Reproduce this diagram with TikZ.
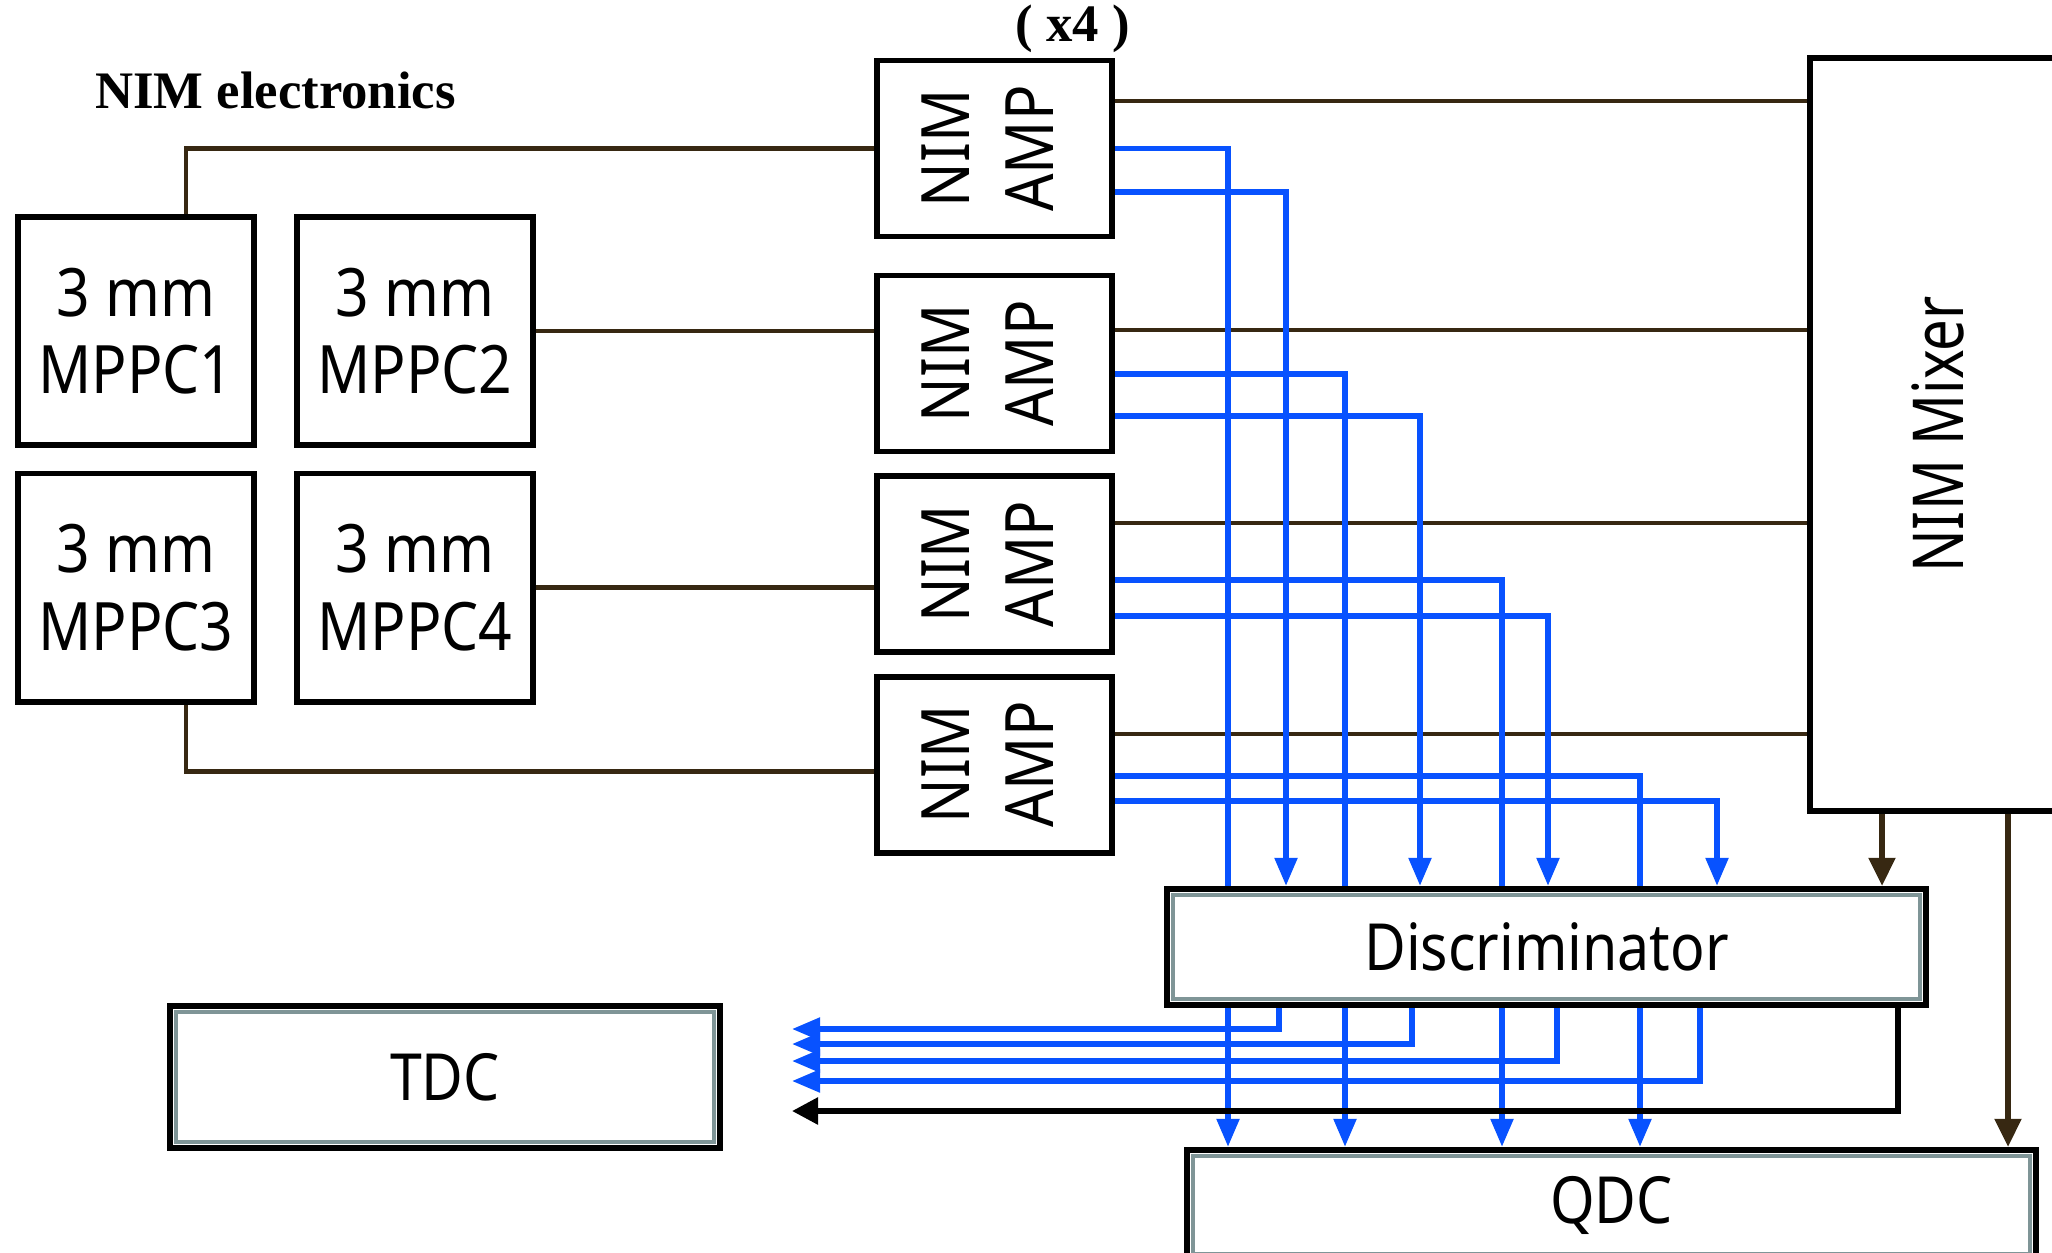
\documentclass[tikz,border=0pt]{standalone}
\usepackage{fontspec}
\setmainfont{Noto Sans}[FakeStretch=0.88]
\newfontfamily\narrowfont{Noto Sans}[FakeStretch=0.8]
\newfontfamily\headfont{Liberation Serif}
\usepackage{xcolor}
\usepackage{tikz}
\usetikzlibrary{backgrounds,calc,positioning,arrows.meta}

\definecolor{wirebrown}{RGB}{55,40,18}
\definecolor{sigblue}{RGB}{8,82,255}
\definecolor{rimgray}{RGB}{127,149,151}

\newcommand{\amplabel}{\rotatebox{90}{\begin{tabular}{@{}c@{}}NIM\\AMP\end{tabular}}}

\tikzset{
  box/.style={draw=black, line width=1.7pt, fill=white, inner sep=0pt},
  mppc/.style={box, minimum width=2.36cm, minimum height=2.28cm, align=center,
               font=\fontsize{19}{22}\selectfont},
  amp/.style={box, minimum width=2.35cm, minimum height=1.76cm,
              font=\fontsize{19}{24}\selectfont},
  module/.style={box, line width=1.8pt, font=\fontsize{18.5}{22}\selectfont},
  rim/.style={draw=rimgray, line width=1.2pt},
  heading/.style={font=\headfont\bfseries\fontsize{15}{18}\selectfont, inner sep=0pt},
  wire/.style={draw=wirebrown, line width=1.3pt},
  wirearrow/.style={wire, line width=1.5pt, -{Triangle[length=2.8mm,width=2.6mm]}},
  sig/.style={draw=sigblue, line width=1.5pt, -{Triangle[length=2.8mm,width=2.2mm]}},
  gate/.style={draw=black, line width=1.6pt, -{Triangle[length=2.6mm,width=2.6mm]}}
}

\begin{document}
\begin{tikzpicture}
    \useasboundingbox (0,0) rectangle (20.52,-12.52);

    \node[heading] (title) at (2.755,-0.90) {NIM electronics};
    \node[heading] (count) at (10.725,-0.29) {( x4 )};

    % sensors
    \node[mppc] (mppc1) at (1.36,-3.31) {3 mm\\MPPC1};
    \node[mppc] (mppc2) at (4.15,-3.31) {3 mm\\MPPC2};
    \node[mppc] (mppc3) at (1.36,-5.875) {3 mm\\MPPC3};
    \node[mppc] (mppc4) at (4.15,-5.875) {3 mm\\MPPC4};

    % amplifiers
    \node[amp] (amp1) at (9.945,-1.485) {\amplabel};
    \node[amp] (amp2) at (9.945,-3.635) {\amplabel};
    \node[amp] (amp3) at (9.945,-5.64) {\amplabel};
    \node[amp] (amp4) at (9.945,-7.645) {\amplabel};

    \node[box, minimum width=2.56cm, minimum height=7.53cm] (mixer) at (19.38,-4.345)
        {\rotatebox{90}{\narrowfont\fontsize{20}{24}\selectfont NIM Mixer}};

    \node[module, minimum width=7.59cm, minimum height=1.16cm] (disc) at (15.465,-9.47) {Discriminator};
    \node[module, minimum width=5.5cm, minimum height=1.42cm] (tdc) at (4.45,-10.77) {TDC};
    \node[module, minimum width=8.49cm, minimum height=1.10cm] (qdc) at (16.115,-12.05) {QDC};

    \foreach \m in {disc,tdc,qdc}
        \draw[rim] ([shift={(0.095,-0.095)}]\m.north west) rectangle ([shift={(-0.095,0.095)}]\m.south east);

    % drop columns
    \foreach \n/\x in {a1/12.28, b1/12.86, a2/13.45, b2/14.20, a3/15.02, b3/15.48, a4/16.40, b4/17.17,
                       m1/18.82, m2/20.08}
        \coordinate (\n) at (\x,0);

    \begin{pgfonlayer}{background}
        % sensor cables
        \draw[wire] ([xshift=5mm]mppc1.north) |- (amp1.west);
        \draw[wire] (mppc2.east) -- (mppc2.east -| amp2.west);
        \draw[wire] (mppc4.east) -- (mppc4.east -| amp3.west);
        \draw[wire] ([xshift=5mm]mppc3.south) |- ([yshift=-0.7mm]amp4.west);

        \foreach \i/\s in {1/4.75, 2/3.35, 3/4.1, 4/3.05}
            \draw[wire] ([yshift=\s mm]amp\i.east) coordinate (o\i) -- (o\i -| mixer.west);

        % amplifier outputs
        \foreach \i/\ya/\yb in {1/0/-4.35, 2/-1.05/-5.25, 3/-1.6/-5.2, 4/-1.15/-3.65} {
            \draw[sig] ([yshift=\ya mm]amp\i.east) -| (a\i |- qdc.north);
            \draw[sig] ([yshift=\yb mm]amp\i.east) -| (b\i |- disc.north);
        }

        % discriminator to TDC
        \foreach \i/\x/\y in {1/12.79/10.29, 2/14.12/10.44, 3/15.57/10.61, 4/17.00/10.81} {
            \coordinate (d\i) at (\x,-\y);
            \coordinate (t\i) at (7.92,-\y);
            \draw[sig] (d\i |- disc.south) |- (t\i);
        }
        \coordinate (d5) at (18.98,-11.11);
        \coordinate (t5) at (7.92,-11.11);
        \draw[gate] (d5 |- disc.south) |- (t5);

        \draw[wirearrow] (m1 |- mixer.south) -- (m1 |- disc.north);
        \draw[wirearrow] (m2 |- mixer.south) -- (m2 |- qdc.north);
    \end{pgfonlayer}
\end{tikzpicture}
\end{document}
